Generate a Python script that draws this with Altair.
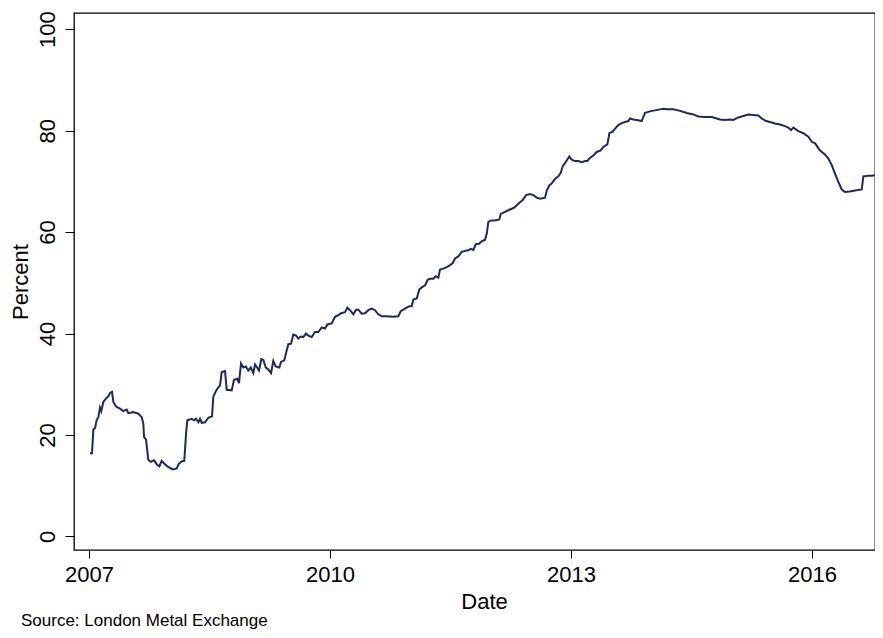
import altair as alt
import pandas as pd

# Decimal-year positions of the observations
year = [
    2007.012, 2007.037, 2007.054, 2007.075, 2007.096, 2007.116, 2007.137, 2007.153, 2007.178, 2007.212,
    2007.240, 2007.261, 2007.286, 2007.303, 2007.336, 2007.386, 2007.427, 2007.469, 2007.489, 2007.551,
    2007.614, 2007.656, 2007.676, 2007.685, 2007.710, 2007.738, 2007.768, 2007.809, 2007.843, 2007.875,
    2007.905, 2007.946, 2007.987, 2008.042, 2008.092, 2008.117, 2008.154, 2008.186, 2008.208, 2008.224,
    2008.278, 2008.307, 2008.332, 2008.361, 2008.382, 2008.403, 2008.444, 2008.485, 2008.531, 2008.547,
    2008.581, 2008.610, 2008.631, 2008.652, 2008.693, 2008.714, 2008.776, 2008.805, 2008.846, 2008.867,
    2008.892, 2008.921, 2008.951, 2008.983, 2009.013, 2009.045, 2009.066, 2009.088, 2009.116, 2009.145,
    2009.170, 2009.200, 2009.232, 2009.266, 2009.294, 2009.324, 2009.369, 2009.390, 2009.431, 2009.461,
    2009.481, 2009.515, 2009.543, 2009.577, 2009.606, 2009.635, 2009.668, 2009.701, 2009.730, 2009.772,
    2009.813, 2009.854, 2009.897, 2009.938, 2009.967, 2010.021, 2010.062, 2010.103, 2010.137, 2010.187,
    2010.216, 2010.249, 2010.290, 2010.324, 2010.352, 2010.395, 2010.436, 2010.477, 2010.519, 2010.560,
    2010.601, 2010.644, 2010.706, 2010.788, 2010.850, 2010.880, 2010.913, 2010.955, 2010.987, 2011.017,
    2011.037, 2011.079, 2011.112, 2011.142, 2011.183, 2011.216, 2011.245, 2011.286, 2011.316, 2011.348,
    2011.369, 2011.411, 2011.453, 2011.494, 2011.528, 2011.556, 2011.597, 2011.640, 2011.681, 2011.722,
    2011.752, 2011.784, 2011.814, 2011.855, 2011.889, 2011.930, 2011.951, 2011.971, 2012.004, 2012.054,
    2012.108, 2012.125, 2012.179, 2012.232, 2012.262, 2012.291, 2012.324, 2012.365, 2012.399, 2012.441,
    2012.490, 2012.531, 2012.573, 2012.614, 2012.677, 2012.698, 2012.730, 2012.760, 2012.801, 2012.842,
    2012.872, 2012.897, 2012.925, 2012.954, 2012.979, 2013.009, 2013.050, 2013.091, 2013.133, 2013.175,
    2013.203, 2013.228, 2013.278, 2013.320, 2013.370, 2013.402, 2013.452, 2013.470, 2013.477, 2013.519,
    2013.548, 2013.589, 2013.631, 2013.672, 2013.714, 2013.735, 2013.776, 2013.818, 2013.880, 2013.921,
    2013.963, 2014.005, 2014.046, 2014.108, 2014.149, 2014.192, 2014.274, 2014.357, 2014.441, 2014.523,
    2014.585, 2014.668, 2014.752, 2014.793, 2014.855, 2014.917, 2014.979, 2015.021, 2015.083, 2015.145,
    2015.207, 2015.270, 2015.332, 2015.374, 2015.428, 2015.477, 2015.540, 2015.602, 2015.664, 2015.705,
    2015.739, 2015.768, 2015.830, 2015.892, 2015.954, 2015.997, 2016.038, 2016.100, 2016.162, 2016.203,
    2016.246, 2016.287, 2016.328, 2016.370, 2016.411, 2016.473, 2016.536, 2016.619, 2016.639, 2016.701,
    2016.743, 2016.785, 2016.838,
]

# Percent values
percent = [
    16.4, 16.4, 21.1, 21.4, 23.0, 23.5, 25.4, 24.7, 26.5, 27.2,
    27.6, 28.3, 28.5, 26.5, 25.6, 25.2, 24.7, 25.0, 24.3, 24.5,
    24.2, 23.5, 22.2, 19.6, 19.1, 15.1, 14.7, 15.0, 14.2, 13.8,
    14.9, 14.2, 13.7, 13.2, 13.4, 14.3, 14.8, 14.9, 20.3, 22.9,
    23.2, 22.9, 23.2, 22.5, 23.2, 22.4, 22.5, 23.4, 23.7, 27.5,
    28.7, 29.4, 29.8, 32.4, 32.6, 28.9, 28.8, 30.9, 31.1, 30.2,
    34.1, 33.3, 33.5, 32.7, 33.3, 32.2, 33.9, 33.4, 32.7, 35.0,
    34.8, 33.3, 32.9, 32.2, 34.6, 33.5, 33.3, 34.4, 34.7, 36.7,
    37.9, 38.0, 39.8, 39.6, 39.0, 39.4, 39.3, 40.0, 39.6, 39.3,
    40.3, 40.3, 41.2, 41.0, 41.8, 42.0, 43.3, 43.6, 44.0, 44.2,
    45.1, 44.6, 43.8, 44.7, 44.7, 43.9, 44.0, 44.6, 44.9, 44.6,
    43.8, 43.4, 43.4, 43.3, 43.4, 44.4, 44.7, 45.1, 45.4, 45.4,
    46.7, 46.9, 48.7, 49.1, 49.5, 50.6, 50.8, 50.8, 51.3, 51.0,
    52.6, 52.8, 53.1, 53.5, 53.9, 54.8, 55.2, 56.1, 56.3, 56.4,
    56.7, 56.5, 57.6, 57.7, 58.2, 58.5, 59.7, 62.0, 62.3, 62.3,
    62.5, 63.6, 64.0, 64.4, 64.6, 64.8, 65.3, 65.9, 66.3, 67.3,
    67.5, 67.3, 66.8, 66.6, 66.8, 68.2, 69.2, 69.6, 70.5, 71.0,
    71.7, 73.0, 73.6, 74.3, 74.9, 74.3, 74.0, 74.0, 73.8, 74.0,
    74.0, 74.5, 75.1, 75.8, 76.1, 76.8, 77.3, 78.8, 79.5, 79.8,
    80.4, 81.1, 81.5, 81.7, 81.9, 82.4, 82.2, 82.1, 81.9, 83.5,
    83.7, 83.9, 84.0, 84.2, 84.3, 84.2, 84.2, 83.9, 83.5, 83.2,
    82.8, 82.7, 82.7, 82.5, 82.2, 82.1, 82.2, 82.1, 82.6, 82.9,
    83.2, 83.1, 83.0, 82.4, 81.9, 81.7, 81.4, 81.2, 80.9, 80.6,
    80.1, 80.6, 79.9, 79.5, 78.8, 77.8, 77.5, 76.1, 75.3, 74.5,
    73.2, 71.5, 69.9, 68.4, 67.9, 68.0, 68.2, 68.4, 71.0, 71.1,
    71.1, 71.2, 71.3,
]

x_ticks = [2007, 2010, 2013, 2016]
y_ticks = [0, 20, 40, 60, 80, 100]
source_note = "Source: London Metal Exchange"

df = pd.DataFrame({"Date": year, "Percent": percent})

FONT = "Liberation Sans"
W, H = 801, 537

line = alt.Chart(df).mark_line(color="#1c2b5a", strokeWidth=2, clip=True).encode(
    x=alt.X(
        "Date:Q",
        scale=alt.Scale(domain=[2006.813, 2016.784], nice=False, zero=False),
        axis=alt.Axis(
            values=x_ticks, format="d", title="Date",
            domain=False, grid=False, ticks=True, tickSize=8, tickColor="#000",
            labelFontSize=22, labelFont=FONT, labelColor="#000", labelPadding=6,
            labelBaseline="top", labelFlush=False,
            titleFontSize=22, titleFont=FONT, titleFontWeight="normal", titleColor="#000",
            titleX=410, titleY=58, titleBaseline="alphabetic", titleAnchor="start", titleAlign="center",
        ),
    ),
    y=alt.Y(
        "Percent:Q",
        scale=alt.Scale(domain=[-2.68, 103.2], nice=False, zero=False),
        axis=alt.Axis(
            values=y_ticks, title="Percent",
            domain=False, grid=False, ticks=True, tickSize=9, tickColor="#000",
            labelFontSize=22, labelFont=FONT, labelColor="#000", labelAngle=270,
            labelAlign="center", labelBaseline="alphabetic", labelPadding=11,
            labelFlush=False,
            titleFontSize=22, titleFont=FONT, titleFontWeight="normal", titleColor="#000",
            titleAngle=270, titleX=-47, titleY=H / 2, titleBaseline="alphabetic",
            titleAlign="center", titleAnchor="start",
        ),
    ),
)

note = alt.Chart(pd.DataFrame({"t": [source_note]})).mark_text(
    align="left", baseline="alphabetic", fontSize=17, font=FONT, color="#000"
).encode(
    text="t:N",
    x=alt.value(-53),
    y=alt.value(613),
)

chart = alt.layer(line, note).properties(
    width=W, height=H,
    autosize=alt.AutoSizeParams(type="none"),
    padding={"left": 66, "top": 5, "right": 0, "bottom": 80},
    background="white",
).configure_view(
    stroke="#000", strokeWidth=1.3, fill="white"
)

chart.save("out.html", embed_options={"renderer": "svg", "actions": False})
